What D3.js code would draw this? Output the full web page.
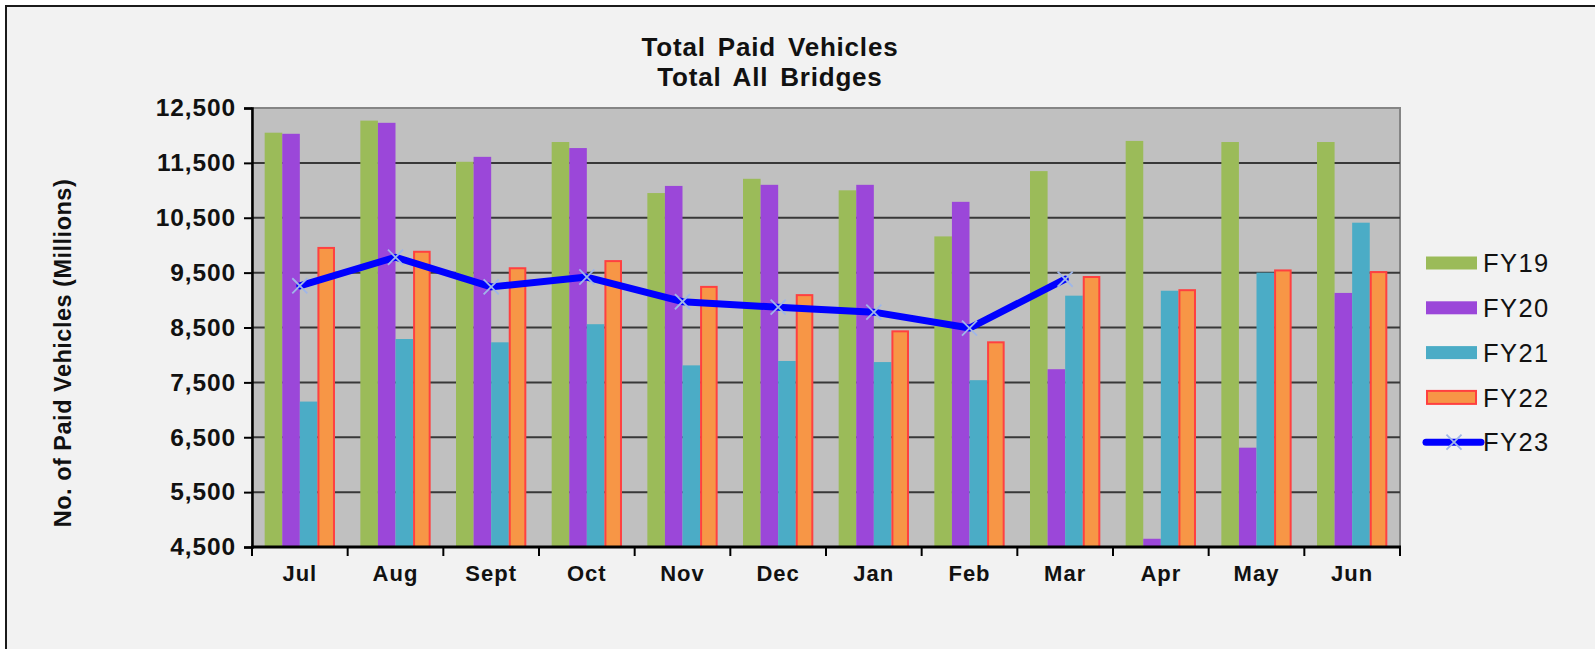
<!DOCTYPE html>
<html>
<head>
<meta charset="utf-8">
<script src="https://cdn.jsdelivr.net/npm/d3@7"></script>
<style>
  html, body { margin: 0; padding: 0; background: #ffffff; }
  svg { display: block; font-family: "Liberation Sans", Arial, sans-serif; }
</style>
</head>
<body>
<svg width="1595" height="649"></svg>
<script>
const months = ["Jul", "Aug", "Sept", "Oct", "Nov", "Dec", "Jan", "Feb", "Mar", "Apr", "May", "Jun"];
const barSeries = ["FY19", "FY20", "FY21", "FY22"];
const fy19 = [12050, 12270, 11520, 11880, 10950, 11210, 11000, 10160, 11350, 11900, 11880, 11880];
const fy20 = [12030, 12230, 11610, 11770, 11080, 11100, 11100, 10790, 7740, 4650, 6310, 9130];
const fy21 = [7150, 8290, 8230, 8560, 7810, 7890, 7870, 7540, 9080, 9170, 9500, 10410];
const fy22 = [9950, 9880, 9580, 9710, 9240, 9090, 8430, 8230, 9420, 9180, 9540, 9510];
const fy23 = [9260, 9780, 9240, 9420, 8970, 8870, 8780, 8490, 9380];
const yTicks = [4500, 5500, 6500, 7500, 8500, 9500, 10500, 11500, 12500];
const titleLines = ["Total Paid Vehicles", "Total All Bridges"];
const yTitle = "No. of Paid Vehicles (Millions)";

const colors = {FY19: "#9bbb59", FY20: "#9b47d9", FY21: "#4bacc6", FY22: "#f79646", FY23: "#0000ff"};
const barValues = {FY19: fy19, FY20: fy20, FY21: fy21, FY22: fy22};

const plot = {left: 252, right: 1400, top: 108, bottom: 547};

const svg = d3.select("svg");

// outer frame
svg.append("rect")
   .attr("x", 6).attr("y", 6)
   .attr("width", 1700).attr("height", 800)
   .attr("fill", "#f2f2f2")
   .attr("stroke", "#1a1a1a")
   .attr("stroke-width", 2);

const x0 = d3.scaleBand()
             .domain(months)
             .range([plot.left, plot.right])
             .paddingInner(0.265)
             .paddingOuter(0.1325);

const x1 = d3.scaleBand()
             .domain(barSeries)
             .range([0, x0.bandwidth()]);

const y = d3.scaleLinear()
            .domain([4500, 12500])
            .range([plot.bottom, plot.top]);

// plot area
svg.append("rect")
   .attr("x", plot.left).attr("y", plot.top)
   .attr("width", plot.right - plot.left)
   .attr("height", plot.bottom - plot.top)
   .attr("fill", "#c0c0c0")
   .attr("stroke", "#858585")
   .attr("stroke-width", 2);

// gridlines
svg.append("g")
   .selectAll("line")
   .data(yTicks.slice(1, -1))
   .join("line")
     .attr("x1", plot.left).attr("x2", plot.right)
     .attr("y1", d => y(d)).attr("y2", d => y(d))
     .attr("stroke", "#383838")
     .attr("stroke-width", 2);

// bars
const rows = months.map((m, i) => ({month: m, values: barSeries.map(s => ({series: s, value: barValues[s][i]}))}));

svg.append("g")
   .selectAll("g")
   .data(rows)
   .join("g")
     .attr("transform", d => `translate(${x0(d.month)},0)`)
   .selectAll("rect")
   .data(d => d.values)
   .join("rect")
     .attr("x", d => x1(d.series) + (d.series === "FY22" ? 1 : 0))
     .attr("y", d => y(d.value))
     .attr("width", d => x1.bandwidth() - (d.series === "FY22" ? 2 : 0))
     .attr("height", d => plot.bottom - y(d.value))
     .attr("fill", d => colors[d.series])
     .attr("stroke", d => d.series === "FY22" ? "#ff4040" : "none")
     .attr("stroke-width", 2);

// axes
const yAxis = svg.append("g")
   .attr("transform", `translate(${plot.left},0)`)
   .call(d3.axisLeft(y).tickValues(yTicks).tickFormat(d3.format(",")).tickSize(8).tickPadding(8));

yAxis.select(".domain").attr("stroke", "#000").attr("stroke-width", 2.5);
yAxis.selectAll(".tick line").attr("stroke", "#000").attr("stroke-width", 2);
yAxis.selectAll("text")
     .attr("font-size", 24.5)
     .attr("font-weight", "bold")
     .attr("letter-spacing", 0.9)
     .attr("fill", "#111")
     .attr("font-family", "Liberation Sans, Arial, sans-serif");

const xAxis = svg.append("g")
   .attr("transform", `translate(0,${plot.bottom})`);

xAxis.append("line")
     .attr("x1", plot.left - 1).attr("x2", plot.right + 1)
     .attr("stroke", "#000").attr("stroke-width", 3);

const step = x0.step();
xAxis.selectAll(".tk")
     .data(d3.range(months.length + 1))
     .join("line")
       .attr("class", "tk")
       .attr("x1", i => plot.left + i * step).attr("x2", i => plot.left + i * step)
       .attr("y1", 0).attr("y2", 9)
       .attr("stroke", "#000").attr("stroke-width", 2);

xAxis.selectAll("text")
     .data(months)
     .join("text")
       .attr("x", d => x0(d) + x0.bandwidth() / 2)
       .attr("y", 34)
       .attr("text-anchor", "middle")
       .attr("font-size", 22)
       .attr("font-weight", "bold")
       .attr("letter-spacing", 1)
       .attr("fill", "#111")
       .text(d => d);

// FY23 line
const line = d3.line()
               .x((d, i) => x0(months[i]) + x0.bandwidth() / 2)
               .y(d => y(d));

svg.append("path")
   .datum(fy23)
   .attr("d", line)
   .attr("fill", "none")
   .attr("stroke", colors.FY23)
   .attr("stroke-width", 7)
   .attr("stroke-linejoin", "round")
   .attr("stroke-linecap", "round");

const cross = d3.symbol().type(d3.symbolX).size(150);

svg.append("g")
   .selectAll("path")
   .data(fy23)
   .join("path")
     .attr("transform", (d, i) => `translate(${x0(months[i]) + x0.bandwidth() / 2},${y(d)})`)
     .attr("d", cross)
     .attr("fill", "none")
     .attr("stroke", "#9fb6e8")
     .attr("stroke-width", 1.8);

// titles
svg.append("g")
   .selectAll("text")
   .data(titleLines)
   .join("text")
     .attr("x", 770)
     .attr("y", (d, i) => 56 + i * 30)
     .attr("text-anchor", "middle")
     .attr("font-size", 26)
     .attr("font-weight", "bold")
     .attr("letter-spacing", 0.8)
     .attr("word-spacing", 4)
     .attr("fill", "#111")
     .text(d => d);

svg.append("text")
   .attr("transform", "translate(71,353) rotate(-90)")
   .attr("text-anchor", "middle")
   .attr("font-size", 23.5)
   .attr("font-weight", "bold")
   .attr("letter-spacing", 0.5)
   .attr("fill", "#111")
   .text(yTitle);

// legend
const legendItems = barSeries.concat(["FY23"]);
const legend = svg.append("g")
   .selectAll("g")
   .data(legendItems)
   .join("g")
     .attr("transform", (d, i) => `translate(1426,${263 + i * 44.8})`);

legend.filter(d => d !== "FY23")
      .append("rect")
        .attr("x", d => d === "FY22" ? 1 : 0)
        .attr("y", -6.5)
        .attr("width", d => d === "FY22" ? 49 : 51)
        .attr("height", 13)
        .attr("fill", d => colors[d])
        .attr("stroke", d => d === "FY22" ? "#ff4040" : "none")
        .attr("stroke-width", 2);

const lg23 = legend.filter(d => d === "FY23");
lg23.append("line")
    .attr("x1", 0).attr("x2", 55)
    .attr("stroke", colors.FY23)
    .attr("stroke-width", 7)
    .attr("stroke-linecap", "round");
lg23.append("path")
    .attr("transform", "translate(28,0)")
    .attr("d", cross)
    .attr("fill", "none")
    .attr("stroke", "#9fb6e8")
    .attr("stroke-width", 1.8);

legend.append("text")
      .attr("x", 57)
      .attr("dy", "0.36em")
      .attr("font-size", 25.5)
      .attr("letter-spacing", 1.4)
      .attr("fill", "#111")
      .text(d => d);
</script>
</body>
</html>
